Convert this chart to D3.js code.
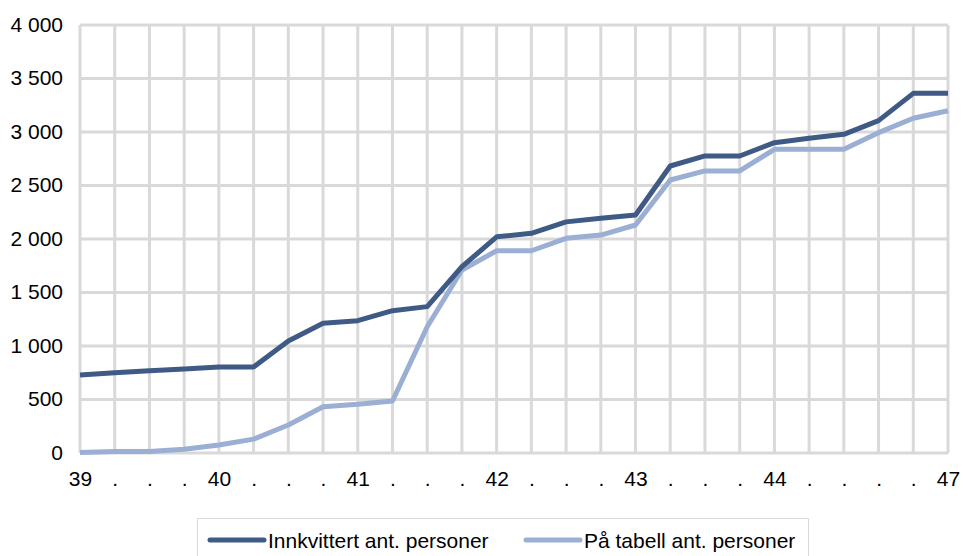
<!DOCTYPE html>
<html>
<head>
<meta charset="utf-8">
<style>
  body { margin: 0; background: #fff; }
  svg { display: block; }
  .tick text, .lbl { font-family: "Liberation Sans", Arial, sans-serif; font-size: 21px; fill: #000; }
  .grid line { stroke: #d9d9d9; stroke-width: 3px; }
</style>
<script src="https://d3js.org/d3.v7.min.js"></script>
</head>
<body>
<svg width="963" height="556"></svg>
<script>
// weekly points, week 39 to 47
var xLabels = ["39", ".", ".", ".", "40", ".", ".", ".", "41", ".", ".", ".", "42", ".", ".", ".",
               "43", ".", ".", ".", "44", ".", ".", ".", ".", "47"];
var innkvittert = [730, 750, 768, 785, 804, 804, 1047, 1212, 1237, 1330, 1368, 1741, 2020,
                   2053, 2160, 2193, 2224, 2682, 2776, 2776, 2900, 2941, 2978, 3106, 3361, 3361];
var paTabell = [5, 15, 15, 35, 75, 130, 262, 433, 455, 486, 1180, 1710, 1890,
                1890, 2006, 2037, 2131, 2551, 2636, 2636, 2838, 2838, 2838, 2994, 3128, 3199];
var yTicks = [0, 500, 1000, 1500, 2000, 2500, 3000, 3500, 4000];
var seriesNames = ["Innkvittert ant. personer", "På tabell ant. personer"];
var seriesColors = ["#3f5a85", "#9aafd3"];

var svg = d3.select("svg");
var mLeft = 80, mRight = 948, mTop = 25, mBottom = 453;

var x = d3.scaleLinear().domain([0, xLabels.length - 1]).range([mLeft, mRight]);
var y = d3.scaleLinear().domain([0, 4000]).range([mBottom, mTop]);
var fmt = d3.formatLocale({ decimal: ",", thousands: " ", grouping: [3], currency: ["", ""] }).format(",");

// grid
var grid = svg.append("g").attr("class", "grid");
grid.selectAll("line.v").data(d3.range(xLabels.length)).enter().append("line")
  .attr("x1", function(d) { return x(d); }).attr("x2", function(d) { return x(d); })
  .attr("y1", mTop).attr("y2", mBottom);
grid.selectAll("line.h").data(yTicks).enter().append("line")
  .attr("x1", mLeft).attr("x2", mRight)
  .attr("y1", function(d) { return y(d); }).attr("y2", function(d) { return y(d); });

// y axis labels
var yAxis = svg.append("g").attr("transform", "translate(" + mLeft + ",0)")
  .call(d3.axisLeft(y).tickValues(yTicks).tickFormat(fmt).tickSize(0).tickPadding(17));
yAxis.select(".domain").remove();
yAxis.selectAll("text").attr("dy", "0.3em");

// x axis labels
var xAxis = svg.append("g").attr("transform", "translate(0," + mBottom + ")")
  .call(d3.axisBottom(x).tickValues(d3.range(xLabels.length)).tickFormat(function(d) { return xLabels[d]; })
    .tickSize(0).tickPadding(18));
xAxis.select(".domain").remove();

// lines
var line = d3.line().x(function(d, i) { return x(i); }).y(function(d) { return y(d); });
[paTabell, innkvittert].forEach(function(s, k) {
  svg.append("path").datum(s)
    .attr("fill", "none")
    .attr("stroke", seriesColors[1 - k])
    .attr("stroke-width", 5)
    .attr("stroke-linejoin", "round")
    .attr("d", line);
});

// legend
var lg = svg.append("g");
lg.append("rect").attr("x", 197.5).attr("y", 518.5).attr("width", 611).attr("height", 50)
  .attr("fill", "#fff").attr("stroke", "#d9d9d9").attr("stroke-width", 1);
var legX = [210, 526];
seriesNames.forEach(function(n, i) {
  lg.append("line").attr("x1", legX[i]).attr("x2", legX[i] + 54).attr("y1", 540).attr("y2", 540)
    .attr("stroke", seriesColors[i]).attr("stroke-width", 5).attr("stroke-linecap", "round");
  lg.append("text").attr("class", "lbl").attr("x", legX[i] + 58).attr("y", 548).text(n);
});
</script>
</body>
</html>
